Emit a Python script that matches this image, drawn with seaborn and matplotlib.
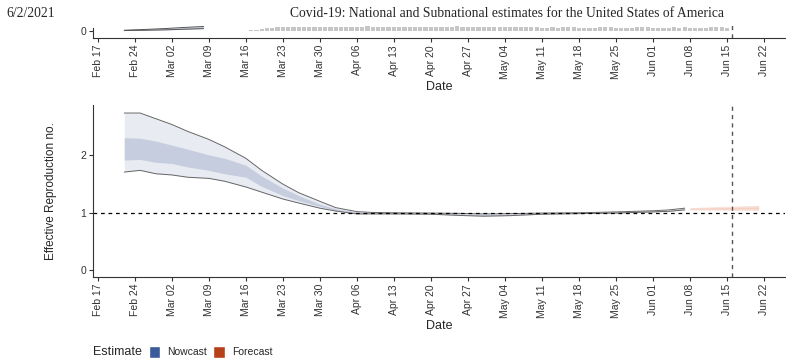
import matplotlib
matplotlib.use("Agg")
import matplotlib.pyplot as plt
import matplotlib.dates as mdates
from matplotlib.patches import Patch
import pandas as pd
import seaborn as sns

# ---- data ----
rt_dates = ["2020-02-22", "2020-02-25", "2020-02-28", "2020-03-02", "2020-03-05",
            "2020-03-09", "2020-03-12", "2020-03-16", "2020-03-19", "2020-03-23",
            "2020-03-26", "2020-03-30", "2020-04-02", "2020-04-06", "2020-04-09",
            "2020-04-13", "2020-04-20", "2020-04-25", "2020-04-30", "2020-05-05",
            "2020-05-11", "2020-05-18", "2020-05-25", "2020-06-01", "2020-06-04",
            "2020-06-07"]
rt_upper_90 = [2.74, 2.74, 2.64, 2.54, 2.42, 2.28, 2.15, 1.95, 1.74, 1.50,
               1.35, 1.20, 1.09, 1.02, 1.005, 1.00, 0.995, 0.99, 0.98, 0.985,
               0.995, 1.00, 1.015, 1.035, 1.05, 1.08]
rt_upper_50 = [2.31, 2.30, 2.25, 2.18, 2.11, 2.01, 1.95, 1.83, 1.64, 1.43,
               1.30, 1.15, 1.07, 1.01, 1.00, 0.995, 0.99, 0.98, 0.97, 0.975,
               0.99, 0.995, 1.01, 1.03, 1.04, 1.07]
rt_lower_50 = [1.92, 1.93, 1.88, 1.86, 1.80, 1.74, 1.68, 1.62, 1.46, 1.30,
               1.21, 1.11, 1.04, 0.99, 0.99, 0.985, 0.98, 0.965, 0.95, 0.96,
               0.98, 0.99, 1.00, 1.02, 1.03, 1.06]
rt_lower_90 = [1.71, 1.74, 1.68, 1.66, 1.62, 1.60, 1.55, 1.45, 1.36, 1.24,
               1.17, 1.08, 1.03, 0.98, 0.98, 0.98, 0.975, 0.955, 0.94, 0.95,
               0.975, 0.985, 0.995, 1.015, 1.025, 1.05]

fc_dates = ["2020-06-08", "2020-06-14", "2020-06-21"]
fc_upper_90 = [1.09, 1.11, 1.13]
fc_upper_50 = [1.075, 1.09, 1.10]
fc_lower_50 = [1.06, 1.065, 1.07]
fc_lower_90 = [1.05, 1.045, 1.04]

inf_dates = ["2020-02-22", "2020-02-26", "2020-03-01", "2020-03-04", "2020-03-08"]
inf_upper = [5000, 11000, 18000, 25000, 33000]
inf_lower = [2500, 5000, 8000, 12000, 17000]

case_start = "2020-03-08"
case_counts = [100, 200, 300, 400, 500, 700, 1000, 1300, 2000, 3000,
               9000, 14000, 20000, 24000, 26000, 27000, 28000, 28000, 29000, 30000,
               27000, 26000, 30000, 31000, 31000, 32000, 32000, 28000, 30000, 31000,
               32000, 33000, 32000, 31000, 27000, 28000, 28000, 29000, 31000, 31000,
               32000, 30000, 26000, 28000, 29000, 30000, 31000, 32000, 33000, 32000,
               28000, 26000, 27000, 29000, 31000, 30000, 30000, 27000, 26000, 26000,
               27000, 28000, 27000, 26000, 25000, 25000, 26000, 25000, 27000, 26000,
               26000, 25000, 24000, 25000, 25000, 26000, 26000, 26000, 25000, 24000,
               25000, 25000, 26000, 26000, 26000, 25000, 24000, 25000, 24000, 26000,
               25000, 26000, 24000, 23000, 24000, 25000, 26000, 26000, 26000, 25000]

report_date = "6/2/2021"
title = "Covid-19: National and Subnational estimates for the United States of America"
forecast_line = "2020-06-16"

# ---- frames ----
rt = pd.DataFrame({"date": pd.to_datetime(rt_dates), "lo90": rt_lower_90,
                   "hi90": rt_upper_90, "lo50": rt_lower_50, "hi50": rt_upper_50})
fc = pd.DataFrame({"date": pd.to_datetime(fc_dates), "lo90": fc_lower_90,
                   "hi90": fc_upper_90, "lo50": fc_lower_50, "hi50": fc_upper_50})
inf = pd.DataFrame({"date": pd.to_datetime(inf_dates), "lo": inf_lower, "hi": inf_upper})
cases = pd.DataFrame({"date": pd.date_range(case_start, periods=len(case_counts)),
                      "count": case_counts})

sns.set_style("ticks")
plt.rcParams["font.family"] = ["Liberation Sans", "DejaVu Sans"]
plt.rcParams["axes.edgecolor"] = "#333333"
plt.rcParams["xtick.color"] = "#333333"
plt.rcParams["ytick.color"] = "#333333"
plt.rcParams["xtick.major.size"] = 3
plt.rcParams["ytick.major.size"] = 3

fig = plt.figure(figsize=(7.86, 3.58), dpi=100)
ax_top = fig.add_axes([0.1183, 0.894, 0.88, 0.045])
ax_rt = fig.add_axes([0.1183, 0.2263, 0.88, 0.4804])

nowcast_col = "#3b5a9a"
forecast_col = "#b5401a"
x_min = pd.Timestamp("2020-02-16 02:00")
x_max = pd.Timestamp("2020-06-25 22:00")
vline = pd.Timestamp(forecast_line)

# top panel: cases
ax_top.bar(cases["date"], cases["count"], width=0.8, color="#c6c6c6", linewidth=0)
ax_top.fill_between(inf["date"], inf["lo"], inf["hi"], color="#c6cddf", linewidth=0)
sns.lineplot(data=inf, x="date", y="hi", ax=ax_top, color="#555555", linewidth=0.7)
sns.lineplot(data=inf, x="date", y="lo", ax=ax_top, color="#555555", linewidth=0.7)
ax_top.axvline(vline, color="#555555", linestyle=(0, (3, 3)), linewidth=1)
ax_top.set_ylim(-52500, 67500)
ax_top.set_yticks([0])
ax_top.spines["top"].set_visible(False)
ax_top.spines["right"].set_visible(False)
ax_top.spines["left"].set_bounds(-52500, 20000)

# bottom panel: R
ax_rt.fill_between(rt["date"], rt["lo90"], rt["hi90"], color="#e9ebf2", linewidth=0)
ax_rt.fill_between(rt["date"], rt["lo50"], rt["hi50"], color="#c6cddf", linewidth=0)
sns.lineplot(data=rt, x="date", y="hi90", ax=ax_rt, color="#666666", linewidth=0.7)
sns.lineplot(data=rt, x="date", y="lo90", ax=ax_rt, color="#666666", linewidth=0.7)
ax_rt.fill_between(fc["date"], fc["lo90"], fc["hi90"], color="#f8e2da", linewidth=0)
ax_rt.fill_between(fc["date"], fc["lo50"], fc["hi50"], color="#f3d0c3", linewidth=0)
ax_rt.axhline(1, color="black", linestyle=(0, (3, 3)), linewidth=0.9)
ax_rt.axvline(vline, color="#555555", linestyle=(0, (3, 3)), linewidth=1)
ax_rt.set_ylim(-0.12, 2.88)
ax_rt.set_yticks([0, 1, 2])
ax_rt.set_ylabel("Effective Reproduction no.", fontsize=8.5, labelpad=17)
ax_rt.spines["top"].set_visible(False)
ax_rt.spines["right"].set_visible(False)

for ax in (ax_top, ax_rt):
    ax.set_xlim(x_min, x_max)
    ax.set_xticks(pd.date_range("2020-02-17", "2020-06-22", freq="7D"))
    ax.xaxis.set_major_formatter(mdates.DateFormatter("%b %d"))
    ax.tick_params(axis="x", labelrotation=90, labelsize=7.5, pad=2)
    ax.tick_params(axis="y", labelsize=7.5, pad=2)
    ax.set_xlabel("Date", fontsize=9, labelpad=1)
    if ax is ax_top:
        ax.set_ylabel("")

fig.text(0.008, 0.962, report_date, fontsize=9.8, family="Liberation Serif",
         va="center", ha="left")
fig.text(0.645, 0.962, title, fontsize=9.8, family="Liberation Serif",
         va="center", ha="center")

# legend
fig.text(0.1183, 0.017, "Estimate", fontsize=9, va="center", ha="left")
handles = [Patch(facecolor=nowcast_col, label="Nowcast"),
           Patch(facecolor=forecast_col, label="Forecast")]
fig.legend(handles=handles, loc="center left", bbox_to_anchor=(0.189, 0.017),
           ncol=2, frameon=False, fontsize=7.5, handlelength=1.1, handleheight=1.3,
           handletextpad=0.7, columnspacing=0.6, borderpad=0, borderaxespad=0)

fig.savefig("out.png", dpi=100)
